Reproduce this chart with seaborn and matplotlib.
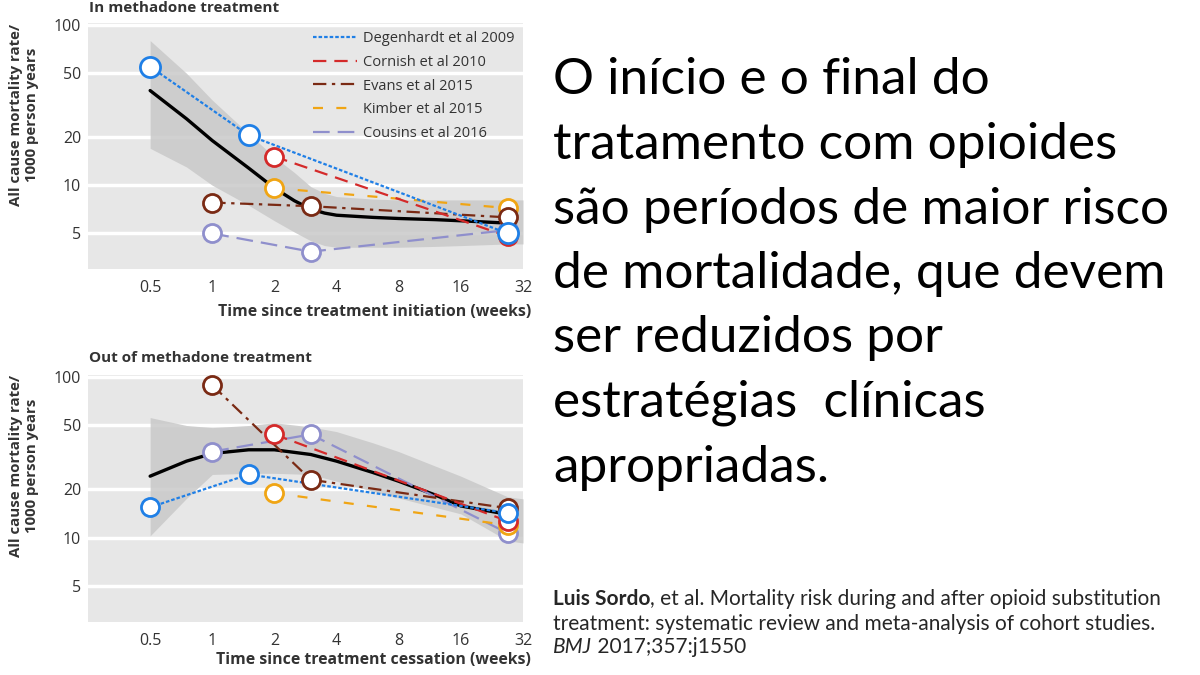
import numpy as np
import pandas as pd
import matplotlib
matplotlib.use('Agg')
import matplotlib.pyplot as plt
import seaborn as sns
from matplotlib.lines import Line2D
from matplotlib.ticker import FixedLocator, NullLocator

# ---------------- data ----------------
studies = ['Degenhardt et al 2009', 'Cornish et al 2010', 'Evans et al 2015',
           'Kimber et al 2015', 'Cousins et al 2016']
colors = ['#1f7fe6', '#d42a2a', '#7a2a14', '#f0a514', '#8f8fcc']
styles = [(0, (1.6, 0.9)), (0, (6, 3.6)), (0, (6, 2.5, 1.5, 2.5)), (0, (4.5, 6)), (0, (7.5, 3.6))]

# in methadone treatment
in_x = {'Degenhardt et al 2009': [0.5, 1.5, 27],
        'Cornish et al 2010': [2, 27],
        'Evans et al 2015': [1, 3, 27],
        'Kimber et al 2015': [2, 27],
        'Cousins et al 2016': [1, 3, 27]}
in_y = {'Degenhardt et al 2009': [55, 20.5, 5.0],
        'Cornish et al 2010': [15.1, 4.8],
        'Evans et al 2015': [7.8, 7.4, 6.3],
        'Kimber et al 2015': [9.6, 7.2],
        'Cousins et al 2016': [5.0, 3.85, 5.25]}
in_fit_x = [0.5, 0.75, 1, 1.5, 2, 2.5, 3, 3.5, 4, 6, 8, 12, 16, 27]
in_fit_y = [39, 26, 19, 12.8, 9.6, 8.0, 7.1, 6.7, 6.5, 6.3, 6.2, 6.1, 6.0, 5.8]
in_band_x = [0.5, 0.75, 1, 1.5, 2, 2.5, 3, 3.5, 4, 6, 8, 12, 16, 27, 32]
in_lo = [17, 13, 10, 7.5, 6.0, 5.1, 4.5, 4.2, 4.1, 4.1, 4.1, 4.15, 4.2, 4.3, 4.3]
in_hi = [80, 50, 34, 21, 15, 12, 9.8, 8.9, 8.5, 8.2, 8.1, 8.1, 8.1, 8.1, 8.1]

# out of methadone treatment
out_x = {'Degenhardt et al 2009': [0.5, 1.5, 27],
         'Cornish et al 2010': [2, 27],
         'Evans et al 2015': [1, 3, 27],
         'Kimber et al 2015': [2, 27],
         'Cousins et al 2016': [1, 3, 27]}
out_y = {'Degenhardt et al 2009': [15.5, 24.8, 14.3],
         'Cornish et al 2010': [44, 12.7],
         'Evans et al 2015': [89, 23, 15.3],
         'Kimber et al 2015': [19, 12],
         'Cousins et al 2016': [34.4, 44, 10.7]}
out_fit_x = [0.5, 0.75, 1, 1.5, 2, 3, 4, 6, 8, 12, 16, 27]
out_fit_y = [24.2, 30, 33.5, 35.3, 35.3, 33, 30, 25.5, 22.5, 18.5, 15.8, 14.0]
out_band_x = [0.5, 0.75, 1, 1.5, 2, 3, 4, 6, 8, 12, 16, 27, 32]
out_lo = [10.3, 17.6, 24.8, 25.2, 25.2, 24.8, 22.5, 19.5, 17.7, 15.5, 14.1, 9.6, 9.3]
out_hi = [56, 50, 48.5, 50, 52, 49, 45.8, 39, 34.4, 28, 24.2, 18, 17.5]

x_ticks = [0.5, 1, 2, 4, 8, 16, 32]
x_ticklabels = ['0.5', '1', '2', '4', '8', '16', '32']
y_ticks = [5, 10, 20, 50, 100]

body_lines = ['O início e o final do', 'tratamento com opioides',
              'são períodos de maior risco', 'de mortalidade, que devem',
              'ser reduzidos por', 'estratégias  clínicas', 'apropriadas.']

# ---------------- figure ----------------
sns.set_style('white')
plt.rcParams['font.family'] = ['Open Sans', 'DejaVu Sans']
txt = '#333333'

fig = plt.figure(figsize=(12, 6.75), dpi=100)
ax_in = fig.add_axes([88 / 1200, 1 - 269 / 675, 435 / 1200, 246 / 675])
ax_out = fig.add_axes([88 / 1200, 1 - 622 / 675, 435 / 1200, 247 / 675])


def draw_panel(ax, xs, ys, fx, fy, bx, lo, hi, big_blue):
    ax.set_facecolor('#e7e7e7')
    ax.set_xscale('log', base=2)
    ax.set_yscale('log')
    ax.fill_between(bx, lo, hi, color='#c9c9c9', alpha=0.85, lw=0, zorder=1)
    sns.lineplot(x=fx, y=fy, ax=ax, color='black', lw=2.4, zorder=3, sort=False)
    for i in [4, 3, 2, 1, 0]:
        s = studies[i]
        ms = 13
        if i == 0 and big_blue:
            ms = 14.5
        sns.lineplot(x=xs[s], y=ys[s], ax=ax, color=colors[i], sort=False,
                     linestyle=styles[i], lw=1.6, zorder=4 + (4 - i))
        ax.plot(xs[s], ys[s], ls='none', marker='o', ms=ms, mfc='white',
                mec=colors[i], mew=2.0, zorder=10 + (4 - i))
    ax.set_xlim(0.25, 32)
    ax.set_ylim(3, 103)
    ax.xaxis.set_major_locator(FixedLocator(x_ticks))
    ax.xaxis.set_minor_locator(NullLocator())
    ax.set_xticklabels(x_ticklabels)
    ax.yaxis.set_major_locator(FixedLocator(y_ticks))
    ax.yaxis.set_minor_locator(NullLocator())
    ax.set_yticklabels([str(v) for v in y_ticks])
    ax.tick_params(length=0, labelsize=11.5, colors=txt)
    ax.tick_params(axis='y', pad=5)
    ax.tick_params(axis='x', pad=8)
    ax.grid(axis='y', color='white', lw=2.5)
    ax.grid(axis='x', visible=False)
    ax.set_axisbelow(True)
    for sp in ax.spines.values():
        sp.set_visible(False)
    ax.set_xlabel('')
    ax.set_ylabel('')


draw_panel(ax_in, in_x, in_y, in_fit_x, in_fit_y, in_band_x, in_lo, in_hi, True)
draw_panel(ax_out, out_x, out_y, out_fit_x, out_fit_y, out_band_x, out_lo, out_hi, False)

handles = [Line2D([0], [0], color=colors[i], linestyle=styles[i], lw=1.6)
           for i in range(5)]
ax_in.legend(handles, studies, loc='upper right', frameon=False, fontsize=10.5,
             handlelength=3.0, handletextpad=0.45, labelspacing=0.6,
             borderaxespad=0.15, labelcolor=txt)

# panel titles and axis labels
fig.text(89 / 1200, 1 - 8 / 675, 'In methadone treatment', fontsize=11,
         fontweight='bold', color=txt, va='center', ha='left')
fig.text(89 / 1200, 1 - 358 / 675, 'Out of methadone treatment', fontsize=11,
         fontweight='bold', color=txt, va='center', ha='left')
for yc in (115, 466):
    fig.text(24 / 1200, 1 - yc / 675, 'All cause mortality rate/\n1000 person years',
             rotation=90, fontsize=10.8, fontweight='bold', color=txt,
             ha='center', va='center', linespacing=1.15)
fig.text(531 / 1200, 1 - 312 / 675, 'Time since treatment initiation (weeks)',
         fontsize=11.4, fontweight='bold', color=txt, ha='right', va='center')
fig.text(531 / 1200, 1 - 660 / 675, 'Time since treatment cessation (weeks)',
         fontsize=11.4, fontweight='bold', color=txt, ha='right', va='center')

# body text
baselines = [94, 159, 224, 288, 352, 417, 482]
for line, b in zip(body_lines, baselines):
    fig.text(553 / 1200, 1 - b / 675, line, fontsize=37, color='black',
             ha='left', va='baseline', family=['Lato', 'DejaVu Sans'])

# citation
cfam = ['Lato', 'DejaVu Sans']
cs = 15
t1 = fig.text(553 / 1200, 1 - 605 / 675, 'Luis Sordo', fontsize=cs,
              fontweight='bold', family=cfam, va='baseline', ha='left')
plt.annotate(', et al. Mortality risk during and after opioid substitution',
             xy=(1, 0), xycoords=t1, fontsize=cs, family=cfam,
             va='bottom', ha='left', annotation_clip=False)
fig.text(553 / 1200, 1 - 630 / 675,
         'treatment: systematic review and meta-analysis of cohort studies.',
         fontsize=cs, family=cfam, va='baseline', ha='left')
t3 = fig.text(553 / 1200, 1 - 653 / 675, 'BMJ', fontsize=cs, style='italic',
              family=cfam, va='baseline', ha='left')
plt.annotate(' 2017;357:j1550', xy=(1, 0), xycoords=t3, fontsize=cs,
             family=cfam, va='bottom', ha='left', annotation_clip=False)

fig.savefig('out.png', dpi=100, facecolor='white')
